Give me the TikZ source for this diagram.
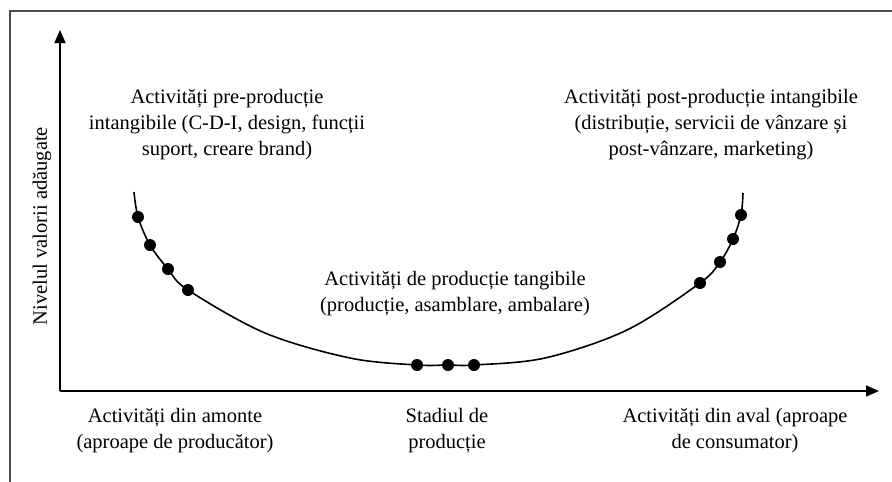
\documentclass[tikz,border=0pt]{standalone}
\usepackage{fontspec}
\setmainfont{Liberation Serif}
\usetikzlibrary{arrows.meta}
\begin{document}
\begin{tikzpicture}[x=1pt,y=-1pt,
  frameline/.style={line width=1.3pt,draw=black!70},
  axisline/.style={line width=1.7pt,-{Triangle[length=13pt,width=11pt]}},
  curveline/.style={line width=1.6pt},
  dot/.style={circle,fill=black,inner sep=0pt,minimum size=12pt},
  lbl/.style={align=center,font=\fontsize{20.5}{26}\selectfont,inner sep=0pt}]
\useasboundingbox (0,0) rectangle (892,482);
\fill[white] (0,0) rectangle (892,482);
% frame
\coordinate (fbl) at (10,482);
\coordinate (ftl) at (10,11);
\coordinate (ftr) at (892,11);
\draw[frameline] (fbl) -- (ftl) -- (ftr);
% axes
\coordinate (o) at (60,391);
\coordinate (ytip) at (60,30);
\coordinate (xtip) at (879,391);
\draw[axisline] (o) -- (ytip);
\draw[axisline] (o) -- (xtip);
% curve points
\coordinate (s) at (134,192);
\coordinate (d1) at (138,217);
\coordinate (d2) at (150,245);
\coordinate (d3) at (168,269);
\coordinate (d4) at (188,290);
\coordinate (m1) at (265,333);
\coordinate (m2) at (350,358);
\coordinate (c1) at (417,365);
\coordinate (c2) at (448,365);
\coordinate (c3) at (474,365);
\coordinate (m3) at (545,358);
\coordinate (m4) at (627,330);
\coordinate (r1) at (700,283);
\coordinate (r2) at (720,262);
\coordinate (r3) at (733,239);
\coordinate (r4) at (741,215);
\coordinate (e) at (743,193);
\draw[curveline] plot[smooth,tension=0.55] coordinates {(s) (d1) (d2) (d3) (d4) (m1) (m2) (c1) (c2) (c3) (m3) (m4) (r1) (r2) (r3) (r4) (e)};
\foreach \p in {d1,d2,d3,d4,c1,c2,c3,r1,r2,r3,r4}
  \node[dot] (n\p) at (\p) {};
% labels
\node[lbl] (pre) at (227,125) {Activități pre-producție\\intangibile (C-D-I, design, funcții\\suport, creare brand)};
\node[lbl] (post) at (711,125) {Activități post-producție intangibile\\(distribuție, servicii de vânzare și\\post-vânzare, marketing)};
\node[lbl] (mid) at (455,294) {Activități de producție tangibile\\(producție, asamblare, ambalare)};
\node[lbl] (amonte) at (175,431) {Activități din amonte\\(aproape de producător)};
\node[lbl] (stadiu) at (447,431) {Stadiul de\\producție};
\node[lbl] (aval) at (735,431) {Activități din aval (aproape\\de consumator)};
\node[lbl,rotate=90] (ylab) at (42,226) {Nivelul valorii adăugate};
\end{tikzpicture}
\end{document}
